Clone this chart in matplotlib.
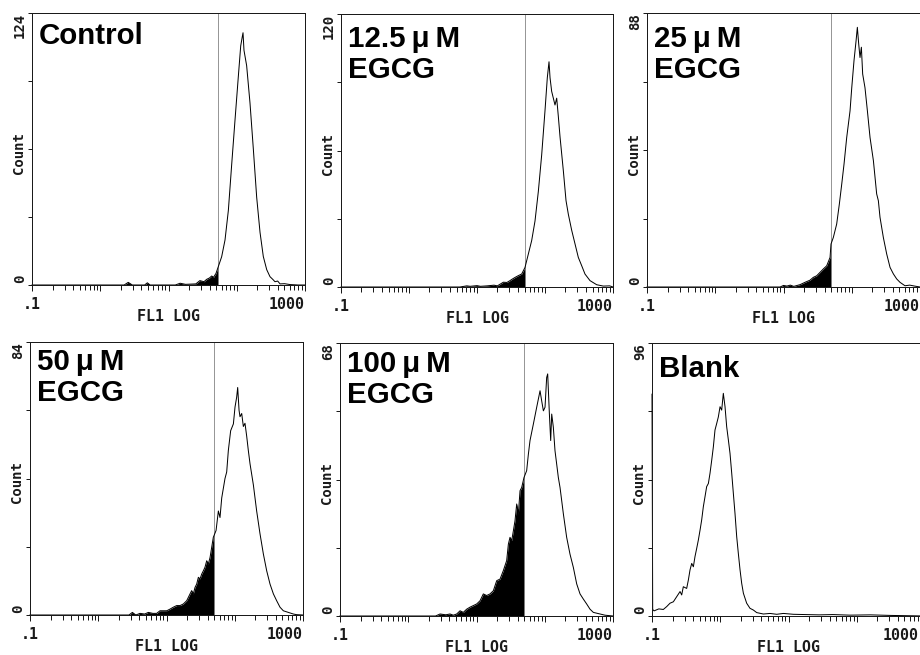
import numpy as np
import matplotlib
matplotlib.use("Agg")
import matplotlib.pyplot as plt
from matplotlib.patches import Rectangle
from matplotlib.ticker import FixedLocator, LogLocator, NullFormatter, FixedFormatter
import matplotlib.transforms as mtrans

W, H, DPI = 920, 655, 72

# ---------------- data (log10 of FL1 channel, event count) ----------------
ctrl_log = [-1.0, 0.35, 0.41, 0.47, 0.65, 0.69, 0.73, 1.10, 1.17, 1.25, 1.40, 1.46, 1.52, 1.56,
            1.60, 1.633, 1.66, 1.696, 1.73, 1.779, 1.828, 1.877, 1.926, 1.974, 2.023, 2.058,
            2.080, 2.092, 2.106, 2.145, 2.194, 2.243, 2.292, 2.341, 2.389, 2.439, 2.487, 2.53,
            2.56, 2.60, 2.634, 2.70, 2.78, 2.90, 3.0]
ctrl_cnt = [0, 0, 1.2, 0, 0, 1.0, 0, 0, 0.8, 0.3, 0.5, 2.0, 1.5, 2.6, 3.2, 4.1, 3.5, 5.3, 8.4,
            12.9, 20.5, 34, 55, 75, 95, 109, 113, 115, 107, 100, 83, 62, 40, 24, 13, 7, 3.8,
            2.5, 1.5, 1.8, 0.5, 0.6, 0.2, 0, 0]

e125_log = [-1.0, 0.75, 0.85, 0.90, 1.0, 1.05, 1.15, 1.25, 1.30, 1.387, 1.44, 1.485, 1.52,
            1.559, 1.608, 1.657, 1.706, 1.755, 1.804, 1.853, 1.902, 1.951, 2.000, 2.034, 2.059,
            2.074, 2.098, 2.147, 2.172, 2.196, 2.221, 2.270, 2.309, 2.343, 2.392, 2.441, 2.490,
            2.539, 2.588, 2.662, 2.760, 2.858, 2.95, 3.0]
e125_cnt = [0, 0, 0.5, 0.3, 0.6, 0.3, 0.5, 0.8, 0.5, 2.1, 2.0, 2.8, 3.5, 4.2, 5.0, 5.7, 8.6,
            14.5, 20.4, 29, 42, 58, 77.5, 92, 99, 92, 86, 80, 83, 75, 66, 51, 38, 32, 25, 19,
            13, 9.4, 5.7, 2.8, 1.0, 0.4, 0.5, 0]

e25_log = [-1.0, 0.95, 1.0, 1.05, 1.10, 1.15, 1.20, 1.242, 1.315, 1.389, 1.437, 1.486, 1.535,
           1.584, 1.633, 1.682, 1.696, 1.730, 1.779, 1.818, 1.853, 1.887, 1.926, 1.975, 2.000,
           2.033, 2.063, 2.082, 2.102, 2.121, 2.141, 2.160, 2.194, 2.229, 2.268, 2.317, 2.365,
           2.390, 2.414, 2.463, 2.512, 2.561, 2.610, 2.658, 2.707, 2.780, 2.85, 2.92, 3.0]
e25_cnt = [0, 0, 0.5, 0.3, 0.6, 0.2, 0.5, 0.75, 1.5, 2.2, 3.1, 3.6, 4.7, 5.8, 6.8, 9.5, 13.8,
           15.9, 20.2, 26.6, 33, 39.5, 48, 56.6, 64, 72.7, 79, 83.4, 78, 73.7, 77, 68.4, 64,
           56.6, 48, 40.6, 29.9, 27.7, 22.4, 15.9, 10.6, 6.3, 4.2, 2.6, 1.5, 0.4, 0.6, 0.3, 0]

e50_log = [-1.0, 0.45, 0.50, 0.55, 0.612, 0.68, 0.734, 0.80, 0.856, 0.905, 1.003, 1.05, 1.100,
           1.149, 1.198, 1.247, 1.296, 1.345, 1.369, 1.393, 1.418, 1.442, 1.467, 1.491, 1.516,
           1.540, 1.564, 1.589, 1.613, 1.638, 1.662, 1.686, 1.726, 1.760, 1.784, 1.809, 1.833,
           1.857, 1.882, 1.906, 1.940, 1.980, 2.004, 2.028, 2.043, 2.063, 2.077, 2.102, 2.126,
           2.150, 2.175, 2.199, 2.224, 2.273, 2.321, 2.370, 2.419, 2.468, 2.517, 2.566, 2.614,
           2.663, 2.712, 2.785, 2.859, 2.907, 3.0]
e50_cnt = [0, 0, 0.8, 0, 0.5, 0.3, 0.8, 0.5, 0.5, 1.3, 1.3, 1.8, 2.4, 2.9, 2.9, 3.4, 4.4, 6.5,
           7.5, 6.5, 8.5, 9.5, 11.6, 11.1, 12.6, 13.6, 14.7, 16.7, 15.7, 17.7, 20.8, 23.9, 26,
           32, 30, 36, 39, 42, 44, 50.6, 56.7, 58.8, 64, 67, 70, 63, 61, 62, 58, 59, 55, 50.6,
           46.5, 40, 32, 25, 18.8, 13.6, 9.5, 6.5, 4.4, 2.4, 1.3, 0.8, 0.3, 0.1, 0]

e100_log = [-1.0, 0.40, 0.466, 0.55, 0.612, 0.66, 0.710, 0.759, 0.807, 0.856, 0.905, 0.954,
            1.003, 1.052, 1.100, 1.149, 1.198, 1.247, 1.296, 1.345, 1.393, 1.442, 1.467, 1.491,
            1.516, 1.540, 1.564, 1.589, 1.613, 1.638, 1.662, 1.696, 1.735, 1.760, 1.784, 1.833,
            1.882, 1.931, 1.955, 1.980, 2.004, 2.028, 2.043, 2.068, 2.087, 2.102, 2.126, 2.150,
            2.175, 2.199, 2.224, 2.273, 2.321, 2.370, 2.419, 2.468, 2.517, 2.566, 2.614, 2.663,
            2.712, 2.810, 2.883, 3.0]
e100_cnt = [0, 0, 0.5, 0.3, 0.5, 0.2, 0.5, 1.3, 0.9, 1.7, 2.2, 2.6, 3.0, 3.8, 5.5, 5.1, 5.5,
            6.3, 8.8, 9.2, 11.3, 13.8, 17.9, 19.6, 18.8, 21.2, 23.7, 27.9, 25.4, 31.2, 32, 34.5,
            36.2, 40.3, 43.7, 47.8, 52, 56.1, 53.6, 51.1, 52, 59.4, 60.3, 50.3, 43.7, 50.3, 47,
            41.2, 37.8, 34.5, 32, 25.4, 19.6, 15.4, 12.1, 8.0, 5.5, 4.2, 3.0, 1.7, 0.9, 0.5,
            0.2, 0]

blank_log = [-1.0, -0.99, -0.97, -0.90, -0.834, -0.785, -0.736, -0.687, -0.638, -0.589, -0.565,
             -0.541, -0.492, -0.467, -0.443, -0.418, -0.394, -0.370, -0.345, -0.321, -0.296,
             -0.272, -0.248, -0.223, -0.199, -0.174, -0.150, -0.125, -0.101, -0.077, -0.052,
             -0.028, -0.003, 0.021, 0.045, 0.070, 0.094, 0.119, 0.143, 0.168, 0.192, 0.216,
             0.241, 0.265, 0.290, 0.314, 0.339, 0.387, 0.436, 0.485, 0.534, 0.632, 0.729, 0.827,
             0.925, 1.071, 1.25, 1.45, 1.65, 1.9, 2.2, 2.5, 3.0]
blank_cnt = [78, 2.3, 1.8, 2.5, 2.3, 3.3, 4.5, 5.0, 6.8, 8.6, 7.4, 10.3, 9.7, 12.7, 16.2, 18.5,
             17.3, 20.9, 23.8, 26.7, 30.2, 33.8, 38.4, 42, 45.5, 46.6, 50.2, 54.8, 59.5, 65.4,
             67.7, 70, 73.6, 72.4, 78.3, 73.6, 66.6, 61.9, 57.2, 50.2, 43.1, 36.1, 27.9, 22,
             16.2, 11.5, 8.0, 4.5, 2.7, 2.1, 1.2, 0.7, 0.9, 0.6, 0.9, 0.6, 0.5, 0.4, 0.5, 0.3,
             0.4, 0.2, 0]

titles = ["Control", "12.5\u2009\u03bc\u2009M\nEGCG", "25\u2009\u03bc\u2009M\nEGCG",
          "50\u2009\u03bc\u2009M\nEGCG", "100\u2009\u03bc\u2009M\nEGCG", "Blank"]
y_max = [124, 120, 88, 84, 68, 96]
gates = [54, 51, 49, 50, 50, None]
logs = [ctrl_log, e125_log, e25_log, e50_log, e100_log, blank_log]
cnts = [ctrl_cnt, e125_cnt, e25_cnt, e50_cnt, e100_cnt, blank_cnt]
x_ticklabels = [".1", "", "", "", "1000"]
x_label = "FL1 LOG"
y_label = "Count"

# ---------------- layout (pixel boxes: left, top, right, bottom) ----------------
boxes = [(32, 13, 305, 285), (341, 14, 613, 287), (647, 13, 920, 287),
         (30, 342, 303, 615), (340, 343, 613, 616), (652, 343, 925, 616)]
title_drop = [9, 11, 12, 6.5, 7.5, 12]

mono = "DejaVu Sans Mono"
fig = plt.figure(figsize=(W / DPI, H / DPI), dpi=DPI)
fig.patch.set_facecolor("white")


def off(ax, dx, dy):
    return ax.transAxes + mtrans.ScaledTranslation(dx / DPI, dy / DPI, fig.dpi_scale_trans)


for i in range(6):
    l, t, r, b = boxes[i]
    ax = fig.add_axes([l / W, 1 - b / H, (r - l) / W, (b - t) / H])
    x = 10 ** np.asarray(logs[i], dtype=float)
    y = np.asarray(cnts[i], dtype=float)
    ymax = y_max[i]
    ax.set_xscale("log")
    ax.set_xlim(0.1, 1000)
    ax.set_ylim(0, ymax)

    if gates[i] is not None:
        poly = ax.fill_between(x, y, 0, color="black", lw=0)
        clip = Rectangle((0.1, 0), gates[i] - 0.1, ymax, transform=ax.transData)
        poly.set_clip_path(clip)
        ax.axvline(gates[i], color="#8c8c8c", lw=0.9)
    ax.plot(x, y, color="black", lw=1.0, clip_on=False)

    for s in ax.spines.values():
        s.set_color("#1a1a1a")
        s.set_linewidth(1.0)

    # panel whose right edge runs past the figure: keep its "1000" label inside
    overflow = r > W
    labels_here = list(x_ticklabels)
    if overflow:
        labels_here[-1] = ""

    ax.xaxis.set_major_locator(FixedLocator([0.1, 1, 10, 100, 1000]))
    ax.xaxis.set_major_formatter(FixedFormatter(labels_here))
    ax.xaxis.set_minor_locator(LogLocator(base=10, subs=np.arange(2, 10), numticks=30))
    ax.xaxis.set_minor_formatter(NullFormatter())
    ax.tick_params(axis="x", which="major", direction="out", length=6, width=1, pad=6,
                   labelsize=15, colors="#1a1a1a")
    ax.tick_params(axis="x", which="minor", direction="out", length=5, width=1,
                   colors="#1a1a1a")
    for lab in ax.get_xticklabels():
        lab.set_fontfamily(mono)
        lab.set_fontweight("bold")
    ax.get_xticklabels()[-1].set_horizontalalignment("right")
    if overflow:
        ax.text(1, 0, x_ticklabels[-1], transform=off(ax, -(r - W) - 1, -12), ha="right",
                va="top", fontfamily=mono, fontweight="bold", fontsize=15, color="#1a1a1a")

    ax.set_yticks([0, ymax / 4, ymax / 2, 3 * ymax / 4, ymax])
    ax.tick_params(axis="y", direction="out", length=4, width=1, labelleft=False,
                   colors="#1a1a1a")

    ax.set_xlabel(x_label, fontfamily=mono, fontweight="bold", fontsize=15, color="#1a1a1a")
    ax.xaxis.set_label_coords(0.5, -24 / (b - t))
    ax.xaxis.label.set_verticalalignment("top")

    ax.text(0, 1, str(ymax), transform=off(ax, -5, 0), rotation=90, ha="right", va="top",
            fontfamily=mono, fontweight="bold", fontsize=14, color="#1a1a1a")
    ax.text(0, 0, "0", transform=off(ax, -5, 2), rotation=90, ha="right", va="bottom",
            fontfamily=mono, fontweight="bold", fontsize=14, color="#1a1a1a")
    ax.text(0, 0.5, y_label, transform=off(ax, -6, -4), rotation=90, ha="right",
            va="center", fontfamily=mono, fontweight="bold", fontsize=14, color="#1a1a1a")

    ax.text(0, 1, titles[i], transform=off(ax, 7, -title_drop[i]), ha="left", va="top",
            fontfamily="Liberation Sans", fontweight="bold", fontsize=29.5,
            linespacing=1.13, color="black")

fig.savefig("out.png", dpi=DPI, facecolor="white")
